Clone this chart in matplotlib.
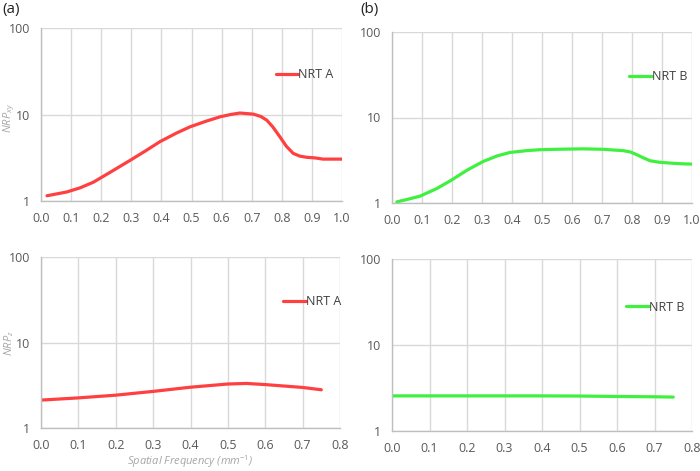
import matplotlib
matplotlib.use("Agg")
import matplotlib.pyplot as plt
import numpy as np
from matplotlib.ticker import FixedLocator, FixedFormatter, NullLocator

# ---- data ----
freq_a_xy = [0.02, 0.085, 0.13, 0.174, 0.23, 0.296, 0.35, 0.395, 0.45, 0.495, 0.55, 0.595, 0.63, 0.661, 0.705, 0.73, 0.75, 0.77, 0.794, 0.815, 0.838, 0.86, 0.883, 0.91, 0.937, 0.97, 1.0]
nrp_a_xy = [1.15, 1.27, 1.42, 1.65, 2.15, 2.95, 3.85, 4.85, 6.1, 7.2, 8.4, 9.4, 10.0, 10.4, 10.1, 9.5, 8.6, 7.2, 5.5, 4.3, 3.55, 3.3, 3.2, 3.15, 3.05, 3.05, 3.05]

freq_b_xy = [0.016, 0.05, 0.093, 0.15, 0.199, 0.25, 0.304, 0.35, 0.393, 0.45, 0.493, 0.55, 0.637, 0.7, 0.77, 0.795, 0.816, 0.84, 0.86, 0.89, 0.927, 0.96, 1.0]
nrp_b_xy = [1.03, 1.1, 1.2, 1.48, 1.86, 2.42, 3.06, 3.55, 3.9, 4.1, 4.2, 4.25, 4.3, 4.25, 4.1, 3.95, 3.67, 3.35, 3.12, 3.0, 2.93, 2.88, 2.85]

freq_a_z = [0.0, 0.1, 0.2, 0.3, 0.4, 0.5, 0.55, 0.6, 0.7, 0.75]
nrp_a_z = [2.12, 2.25, 2.42, 2.68, 3.0, 3.27, 3.32, 3.22, 2.98, 2.8]

freq_b_z = [0.0, 0.1, 0.2, 0.3, 0.4, 0.5, 0.6, 0.7, 0.75]
nrp_b_z = [2.56, 2.56, 2.56, 2.56, 2.56, 2.55, 2.52, 2.5, 2.48]

xticks_top = [0.0, 0.1, 0.2, 0.3, 0.4, 0.5, 0.6, 0.7, 0.8, 0.9, 1.0]
xticks_bot = [0.0, 0.1, 0.2, 0.3, 0.4, 0.5, 0.6, 0.7, 0.8]
yticks = [1, 10, 100]

RED = "#ff4040"
GREEN = "#40f040"
GRID = "#d9d9d9"
TXT = "#595959"
LBL = "#a6a6a6"

plt.rcParams['font.family'] = ['Open Sans', 'DejaVu Sans']
plt.rcParams['mathtext.fontset'] = 'custom'
plt.rcParams['mathtext.it'] = 'Open Sans:italic'
plt.rcParams['mathtext.rm'] = 'Open Sans'

W, H = 700, 471
fig = plt.figure(figsize=(7.0, 4.71), dpi=100)

def mk(x0, x1, y0, y1):
    return fig.add_axes([x0 / W, 1 - y1 / H, (x1 - x0) / W, (y1 - y0) / H])

def style(ax, xt, xmax):
    ax.set_yscale('log')
    ax.set_ylim(1, 100)
    ax.set_xlim(0, xmax)
    ax.xaxis.set_major_locator(FixedLocator(xt))
    ax.xaxis.set_major_formatter(FixedFormatter([f"{v:.1f}" for v in xt]))
    ax.yaxis.set_major_locator(FixedLocator(yticks))
    ax.yaxis.set_major_formatter(FixedFormatter([str(v) for v in yticks]))
    ax.yaxis.set_minor_locator(NullLocator())
    ax.grid(True, color=GRID, linewidth=1.0)
    ax.set_axisbelow(True)
    for s in ['top', 'right']:
        ax.spines[s].set_visible(False)
    for s in ['left', 'bottom']:
        ax.spines[s].set_color("#bfbfbf")
        ax.spines[s].set_linewidth(1.0)
    ax.tick_params(length=0, labelsize=9, colors=TXT, pad=8)

def leg(ax, x, y):
    l = ax.legend(loc='center left', bbox_to_anchor=(x, y), frameon=False,
                  handlelength=1.8, handletextpad=0.0, borderaxespad=0, borderpad=0,
                  fontsize=9)
    for t in l.get_texts():
        t.set_color("#404040")

ax1 = mk(41, 342, 28, 201)
ax1.plot(freq_a_xy, nrp_a_xy, color=RED, lw=2.3, label='NRT A', solid_capstyle='round')
style(ax1, xticks_top, 1.0)
leg(ax1, 0.78, 0.73)

ax2 = mk(392, 692, 32, 203)
ax2.plot(freq_b_xy, nrp_b_xy, color=GREEN, lw=2.3, label='NRT B', solid_capstyle='round')
style(ax2, xticks_top, 1.0)
leg(ax2, 0.79, 0.74)

ax3 = mk(41, 340, 257, 428)
ax3.plot(freq_a_z, nrp_a_z, color=RED, lw=2.3, label='NRT A', solid_capstyle='round')
style(ax3, xticks_bot, 0.8)
leg(ax3, 0.81, 0.74)

ax4 = mk(392, 692, 259, 431)
ax4.plot(freq_b_z, nrp_b_z, color=GREEN, lw=2.3, label='NRT B', solid_capstyle='round')
style(ax4, xticks_bot, 0.8)
leg(ax4, 0.78, 0.72)

fig.text(9 / W, 1 - 118 / H, r'$NRP_{xy}$', color=LBL, fontsize=8, rotation=90,
         ha='center', va='center')
fig.text(9 / W, 1 - 343 / H, r'$NRP_{z}$', color=LBL, fontsize=8, rotation=90,
         ha='center', va='center')
fig.text(190 / W, 1 - 462 / H, r'Spatial Frequency (mm$^{\mathit{-1}}$)', color=LBL,
         fontsize=8, style='italic', ha='center', va='center')

fig.text(2 / W, 1 - 10 / H, '(a)', fontsize=11, color='#222222', va='center', ha='left')
fig.text(360 / W, 1 - 10 / H, '(b)', fontsize=11, color='#222222', va='center', ha='left')

fig.savefig('out.png', dpi=100)
